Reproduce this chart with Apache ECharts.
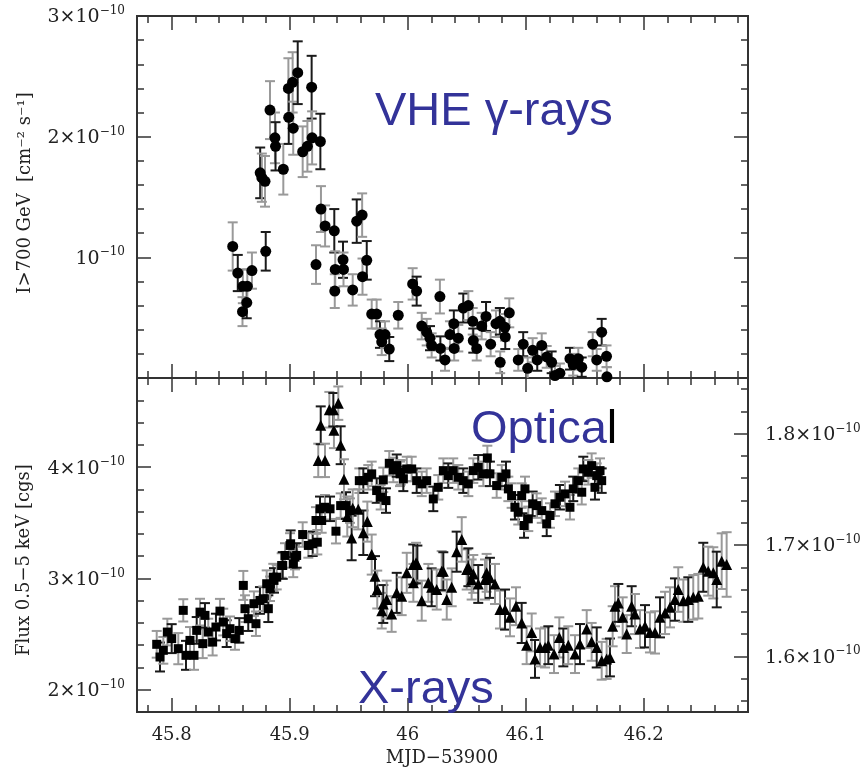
<!DOCTYPE html>
<html>
<head>
<meta charset="utf-8">
<script src="https://cdn.jsdelivr.net/npm/echarts@6/dist/echarts.min.js"></script>
<style>
  html, body { margin: 0; padding: 0; background: #fff; }
  #chart { width: 868px; height: 769px; }
</style>
</head>
<body>
<div id="chart"></div>
<script>
// values in units of 1e-10; each point is [MJD-53900, flux, error]
const gamma = [
  [45.8517,1.09,0.20],[45.8560,0.87,0.15],[45.8600,0.55,0.12],[45.8603,0.76,0.14],[45.8636,0.625,0.13],
  [45.8641,0.76,0.14],[45.8680,0.89,0.15],[45.8750,1.70,0.21],[45.8764,1.66,0.20],[45.8791,1.63,0.21],
  [45.8797,1.05,0.16],[45.8833,2.22,0.24],[45.8875,1.99,0.21],[45.8880,1.92,0.20],[45.8946,1.73,0.21],
  [45.8989,2.40,0.25],[45.8992,2.16,0.22],[45.9025,2.45,0.25],[45.9030,2.07,0.22],[45.9068,2.53,0.26],
  [45.9110,1.875,0.21],[45.9150,1.92,0.21],[45.9186,2.41,0.26],[45.9190,1.99,0.22],[45.9223,0.94,0.16],
  [45.9260,1.96,0.23],[45.9265,1.40,0.19],[45.9300,1.26,0.17],[45.9378,1.22,0.18],[45.9382,0.72,0.14],
  [45.9386,0.90,0.15],[45.9452,0.98,0.15],[45.9456,0.90,0.14],[45.9534,0.73,0.13],[45.9568,1.30,0.18],
  [45.9614,1.35,0.18],[45.9617,0.84,0.15],[45.9653,0.975,0.16],[45.9695,0.53,0.12],[45.9737,0.53,0.12],
  [45.9765,0.36,0.11],[45.9780,0.30,0.11],[45.9808,0.36,0.11],[45.9844,0.24,0.10],[45.9920,0.52,0.11],
  [46.0042,0.78,0.13],[46.0076,0.72,0.12],[46.0119,0.43,0.11],[46.0161,0.38,0.11],[46.0189,0.33,0.10],
  [46.0203,0.27,0.10],[46.0273,0.675,0.14],[46.0277,0.245,0.10],[46.0316,0.15,0.09],[46.0358,0.36,0.11],
  [46.0391,0.45,0.11],[46.0394,0.245,0.10],[46.0429,0.33,0.11],[46.0471,0.58,0.12],[46.0514,0.60,0.12],
  [46.0551,0.47,0.11],[46.0556,0.31,0.10],[46.0585,0.245,0.10],[46.0627,0.43,0.11],[46.0664,0.51,0.12],
  [46.0703,0.28,0.10],[46.0748,0.45,0.11],[46.0781,0.47,0.11],[46.0784,0.13,0.09],[46.0824,0.42,0.11],
  [46.0827,0.34,0.10],[46.0861,0.54,0.12],[46.0937,0.15,0.09],[46.0979,0.28,0.10],[46.1017,0.08,0.09],
  [46.1059,0.23,0.10],[46.1098,0.15,0.09],[46.1136,0.27,0.10],[46.1178,0.175,0.09],[46.1220,0.13,0.09],
  [46.1248,0.02,0.08],[46.1290,0.04,0.08],[46.1375,0.16,0.09],[46.1403,0.11,0.09],[46.1446,0.16,0.09],
  [46.1475,0.09,0.08],[46.1568,0.28,0.10],[46.1602,0.15,0.09],[46.1644,0.38,0.11],[46.1685,0.18,0.09],
  [46.1688,0.01,0.08]
];

// optical flux, right axis
const optical = [
  [45.7873,1.6108,0.012],[45.7901,1.5994,0.013],[45.7929,1.6054,0.012],[45.7963,1.6218,0.012],[45.8000,1.6159,0.013],
  [45.8056,1.6069,0.014],[45.8098,1.6413,0.010],[45.8121,1.6009,0.013],[45.8155,1.6143,0.012],[45.8189,1.6009,0.013],
  [45.8212,1.6233,0.012],[45.8240,1.6397,0.012],[45.8263,1.6114,0.013],[45.8282,1.6368,0.011],[45.8310,1.6218,0.012],
  [45.8347,1.6128,0.012],[45.8375,1.6263,0.012],[45.8409,1.6406,0.011],[45.8437,1.6308,0.012],[45.8466,1.6204,0.012],
  [45.8494,1.6248,0.011],[45.8536,1.6159,0.010],[45.8573,1.6233,0.011],[45.8607,1.6637,0.013],[45.8621,1.6428,0.012],
  [45.8649,1.6338,0.011],[45.8697,1.6473,0.011],[45.8714,1.6293,0.011],[45.8748,1.6502,0.012],[45.8776,1.6517,0.011],
  [45.8805,1.6652,0.012],[45.8819,1.6428,0.012],[45.8833,1.6607,0.011],[45.8861,1.6711,0.012],[45.8867,1.6682,0.011],
  [45.8890,1.6711,0.011],[45.8932,1.6816,0.011],[45.8941,1.6816,0.012],[45.8960,1.6906,0.011],[45.9003,1.6996,0.011],
  [45.9008,1.7011,0.012],[45.9030,1.6831,0.012],[45.9045,1.6891,0.011],[45.9059,1.6906,0.011],[45.9110,1.7094,0.011],
  [45.9158,1.6996,0.011],[45.9195,1.7011,0.011],[45.9223,1.7220,0.012],[45.9234,1.7025,0.011],[45.9257,1.7325,0.011],
  [45.9271,1.7220,0.011],[45.9299,1.7339,0.011],[45.9342,1.7325,0.011],[45.9392,1.7124,0.011],[45.9432,1.7354,0.011],
  [45.9477,1.7354,0.012],[45.9511,1.7309,0.011],[45.9590,1.7578,0.011],[45.9624,1.7578,0.011],[45.9666,1.7608,0.011],
  [45.9695,1.7639,0.011],[45.9737,1.7489,0.011],[45.9771,1.7429,0.011],[45.9793,1.7585,0.011],[45.9816,1.7399,0.011],
  [45.9844,1.7734,0.011],[45.9878,1.7674,0.011],[45.9907,1.7713,0.010],[45.9935,1.7639,0.011],[45.9941,1.7653,0.011],
  [45.9963,1.7594,0.011],[45.9992,1.7683,0.011],[46.0034,1.7683,0.011],[46.0076,1.7578,0.011],[46.0119,1.7549,0.011],
  [46.0161,1.7578,0.011],[46.0217,1.7414,0.011],[46.0259,1.7518,0.011],[46.0302,1.7668,0.011],[46.0344,1.7623,0.011],
  [46.0386,1.7668,0.011],[46.0429,1.7608,0.011],[46.0471,1.7578,0.011],[46.0514,1.7549,0.011],[46.0556,1.7668,0.011],
  [46.0598,1.7698,0.011],[46.0641,1.7639,0.011],[46.0675,1.7782,0.011],[46.0697,1.7639,0.011],[46.0754,1.7534,0.011],
  [46.0797,1.7608,0.011],[46.0833,1.7639,0.011],[46.0853,1.7504,0.011],[46.0881,1.7444,0.011],[46.0909,1.7339,0.011],
  [46.0937,1.7294,0.011],[46.0966,1.7444,0.011],[46.0986,1.7175,0.011],[46.0994,1.7504,0.011],[46.1022,1.7235,0.011],
  [46.1059,1.7370,0.011],[46.1093,1.7354,0.011],[46.1136,1.7309,0.011],[46.1178,1.7190,0.011],[46.1206,1.7265,0.011],
  [46.1248,1.7370,0.011],[46.1290,1.7429,0.011],[46.1333,1.7459,0.011],[46.1375,1.7339,0.011],[46.1403,1.7504,0.011],
  [46.1446,1.7578,0.011],[46.1475,1.7474,0.011],[46.1488,1.7683,0.011],[46.1531,1.7653,0.011],[46.1559,1.7713,0.011],
  [46.1587,1.7518,0.011],[46.1602,1.7623,0.011],[46.1630,1.7668,0.011],[46.1644,1.7578,0.011]
];

// X-ray flux 0.5-5 keV, left axis
const xrays = [
  [45.9242,4.06,0.15],[45.9263,4.375,0.17],[45.9299,4.06,0.15],[45.9336,4.515,0.16],[45.9370,4.515,0.15],
  [45.9375,4.33,0.16],[45.9412,4.574,0.15],[45.9432,4.196,0.17],[45.9460,3.89,0.18],[45.9488,3.556,0.18],
  [45.9525,3.363,0.20],[45.9534,3.63,0.17],[45.9581,3.62,0.18],[45.9624,3.41,0.20],[45.9658,3.51,0.18],
  [45.9695,3.214,0.18],[45.9723,3.02,0.18],[45.9742,2.90,0.17],[45.9780,2.71,0.16],[45.9793,2.77,0.17],
  [45.9822,2.81,0.17],[45.9864,2.68,0.16],[45.9907,2.87,0.18],[45.9949,2.84,0.17],[45.9992,3.05,0.18],
  [46.0047,3.125,0.18],[46.0048,2.96,0.17],[46.0071,3.14,0.18],[46.0082,3.125,0.17],[46.0119,2.80,0.18],
  [46.0175,2.96,0.17],[46.0203,2.92,0.17],[46.0246,2.90,0.18],[46.0288,3.065,0.18],[46.0302,3.065,0.17],
  [46.0331,2.81,0.18],[46.0373,2.92,0.17],[46.0415,3.24,0.18],[46.0458,3.35,0.20],[46.0500,3.08,0.18],
  [46.0514,3.10,0.17],[46.0542,2.99,0.18],[46.0556,3.04,0.17],[46.0598,2.95,0.17],[46.0655,2.99,0.18],
  [46.0669,3.05,0.17],[46.0697,3.005,0.18],[46.0740,2.95,0.18],[46.0782,2.72,0.17],[46.0825,2.72,0.18],
  [46.0867,2.65,0.17],[46.0918,2.75,0.17],[46.0966,2.60,0.18],[46.1008,2.40,0.17],[46.1051,2.515,0.17],
  [46.1079,2.277,0.17],[46.1122,2.38,0.17],[46.1164,2.38,0.18],[46.1192,2.40,0.17],[46.1240,2.32,0.17],
  [46.1285,2.47,0.18],[46.1319,2.38,0.17],[46.1361,2.40,0.17],[46.1418,2.32,0.17],[46.1460,2.41,0.18],
  [46.1517,2.545,0.17],[46.1559,2.43,0.17],[46.1602,2.38,0.18],[46.1644,2.26,0.17],[46.1686,2.277,0.18],
  [46.1714,2.29,0.17],[46.1737,2.57,0.18],[46.1757,2.75,0.18],[46.1785,2.78,0.17],[46.1822,2.65,0.18],
  [46.1856,2.50,0.17],[46.1898,2.75,0.18],[46.1926,2.68,0.18],[46.1969,2.545,0.17],[46.2011,2.57,0.19],
  [46.2053,2.515,0.18],[46.2096,2.515,0.19],[46.2138,2.65,0.18],[46.2181,2.69,0.19],[46.2223,2.74,0.18],
  [46.2265,2.81,0.19],[46.2293,2.90,0.20],[46.2336,2.80,0.19],[46.2378,2.81,0.20],[46.2420,2.83,0.20],
  [46.2463,2.84,0.20],[46.2505,3.10,0.22],[46.2547,3.065,0.22],[46.2590,3.05,0.23],[46.2619,2.99,0.25],
  [46.2661,3.155,0.25],[46.2703,3.125,0.29]
];

// axis ranges and tick labels
const xRange = [45.7706, 46.2884];
const xLabels = [45.8, 45.9, 46.0, 46.1, 46.2];
const gammaRange = [0, 3];
const gammaLabels = [1, 2, 3];
const xrayRange = [1.8, 4.8];
const xrayLabels = [2, 3, 4];
const optRange = [1.55, 1.85];
const optLabels = [1.6, 1.7, 1.8];

function steps(a, b, d) {
  const out = [];
  for (let v = a; v <= b + d / 10; v += d) out.push(Math.round(v * 1000) / 1000);
  return out;
}
const xMinor = steps(45.78, 46.28, 0.02);
const gammaMinor = steps(0, 3, 0.2);
const xrayMinor = steps(1.8, 4.8, 0.2);
const optMinor = steps(1.56, 1.84, 0.02);

const SERIF = 'DejaVu Serif';
const INK = '#222';
const rich = {
  m: { fontFamily: SERIF, fontSize: 19, color: INK, lineHeight: 22, verticalAlign: 'bottom' },
  s: { fontFamily: SERIF, fontSize: 12, color: INK, lineHeight: 15, verticalAlign: 'top' }
};
const sci = (mant) => (mant ? '{m|' + mant + '×10}' : '{m|10}') + '{s|−10}';

function axis(grid, pos, range, ticks, len, labels, fmt, margin) {
  return {
    type: 'value', gridIndex: grid, position: pos, min: range[0], max: range[1],
    axisLine: { show: true, onZero: false, lineStyle: { color: '#333', width: 2 } },
    axisTick: { show: true, inside: true, length: len, customValues: ticks,
                lineStyle: { color: '#333', width: 1.5 } },
    axisLabel: labels ? { show: true, customValues: labels, formatter: fmt, margin: margin,
                          rich: rich, fontFamily: SERIF, fontSize: 18, color: INK }
                      : { show: false },
    splitLine: { show: false }
  };
}

const xFmt = v => String(Math.round(v * 10) / 10);
const xAxes = [
  axis(0, 'bottom', xRange, xMinor, 7),
  axis(0, 'bottom', xRange, xLabels, 14),
  axis(0, 'top', xRange, xMinor, 7),
  axis(0, 'top', xRange, xLabels, 14),
  axis(1, 'bottom', xRange, xMinor, 7),
  axis(1, 'bottom', xRange, xLabels, 14, xLabels, xFmt, 14),
  axis(1, 'top', xRange, xMinor, 7),
  axis(1, 'top', xRange, xLabels, 14)
];
const yAxes = [
  axis(0, 'left', gammaRange, gammaMinor, 7),
  axis(0, 'left', gammaRange, [0, 1, 2, 3], 14, gammaLabels, v => sci(Math.round(v) === 1 ? '' : Math.round(v)), 12),
  axis(0, 'right', gammaRange, gammaMinor, 7),
  axis(0, 'right', gammaRange, [0, 1, 2, 3], 14),
  axis(1, 'left', xrayRange, xrayMinor, 7),
  axis(1, 'left', xrayRange, xrayLabels, 14, xrayLabels, v => sci(Math.round(v)), 12),
  axis(1, 'right', optRange, optMinor, 7),
  axis(1, 'right', optRange, optLabels, 14, optLabels, v => sci(v.toFixed(1)), 17)
];

function errBars(params, api) {
  const x = api.value(0), y = api.value(1), e = api.value(2);
  const hi = api.coord([x, y + e]);
  const lo = api.coord([x, y - e]);
  const w = 5;
  const color = params.dataIndex % 3 === 1 ? '#1a1a1a' : '#999999';
  const st = { stroke: color, lineWidth: 2 };
  return {
    type: 'group',
    children: [
      { type: 'line', shape: { x1: hi[0], y1: hi[1], x2: lo[0], y2: lo[1] }, style: st },
      { type: 'line', shape: { x1: hi[0] - w, y1: hi[1], x2: hi[0] + w, y2: hi[1] }, style: st },
      { type: 'line', shape: { x1: lo[0] - w, y1: lo[1], x2: lo[0] + w, y2: lo[1] }, style: st }
    ]
  };
}

const chart = echarts.init(document.getElementById('chart'), null, { renderer: 'canvas' });
const BLUE = '#333399';

chart.setOption({
  backgroundColor: '#fff',
  animation: false,
  grid: [
    { left: 137, top: 16, width: 611, height: 362 },
    { left: 137, top: 378, width: 611, height: 334 }
  ],
  xAxis: xAxes,
  yAxis: yAxes,
  series: [
    { type: 'custom', name: 'VHE err', xAxisIndex: 0, yAxisIndex: 0, data: gamma,
      encode: { x: 0, y: 1 }, renderItem: errBars, clip: true, z: 2 },
    { type: 'scatter', name: 'VHE', xAxisIndex: 0, yAxisIndex: 0, data: gamma,
      encode: { x: 0, y: 1 }, symbol: 'circle', symbolSize: 11,
      itemStyle: { color: '#000', opacity: 1 }, z: 3 },
    { type: 'custom', name: 'Optical err', xAxisIndex: 4, yAxisIndex: 6, data: optical,
      encode: { x: 0, y: 1 }, renderItem: errBars, clip: true, z: 2 },
    { type: 'scatter', name: 'Optical', xAxisIndex: 4, yAxisIndex: 6, data: optical,
      encode: { x: 0, y: 1 }, symbol: 'rect', symbolSize: 9,
      itemStyle: { color: '#000', opacity: 1 }, z: 3 },
    { type: 'custom', name: 'X-ray err', xAxisIndex: 4, yAxisIndex: 4, data: xrays,
      encode: { x: 0, y: 1 }, renderItem: errBars, clip: true, z: 2 },
    { type: 'scatter', name: 'X-rays', xAxisIndex: 4, yAxisIndex: 4, data: xrays,
      encode: { x: 0, y: 1 }, symbol: 'triangle', symbolSize: 11,
      itemStyle: { color: '#000', opacity: 1 }, z: 3 }
  ],
  graphic: [
    { type: 'text', x: 25, y: 193, rotation: Math.PI / 2,
      style: { text: 'I>700 GeV  [cm⁻² s⁻¹]', font: '18px "DejaVu Serif"', fill: INK,
               align: 'center', verticalAlign: 'middle' } },
    { type: 'text', x: 24, y: 560, rotation: Math.PI / 2,
      style: { text: 'Flux 0.5−5 keV [cgs]', font: '18px "DejaVu Serif"', fill: INK,
               align: 'center', verticalAlign: 'middle' } },
    { type: 'text', x: 442, y: 758,
      style: { text: 'MJD−53900', font: '18px "DejaVu Serif"', fill: INK,
               align: 'center', verticalAlign: 'middle' } },
    { type: 'text', x: 375, y: 112, z: 10,
      style: { text: 'VHE γ-rays', font: '47px "Liberation Sans"', fill: BLUE,
               align: 'left', verticalAlign: 'middle' } },
    { type: 'text', x: 471, y: 430, z: 10,
      style: { text: '{b|Optica}{k|l}', align: 'left', verticalAlign: 'middle',
               rich: { b: { fontFamily: 'Liberation Sans', fontSize: 47, fill: BLUE },
                       k: { fontFamily: 'Liberation Sans', fontSize: 47, fill: '#000' } } } },
    { type: 'text', x: 358, y: 690, z: 10,
      style: { text: 'X-rays', font: '47px "Liberation Sans"', fill: BLUE,
               align: 'left', verticalAlign: 'middle' } }
  ]
});
</script>
</body>
</html>
